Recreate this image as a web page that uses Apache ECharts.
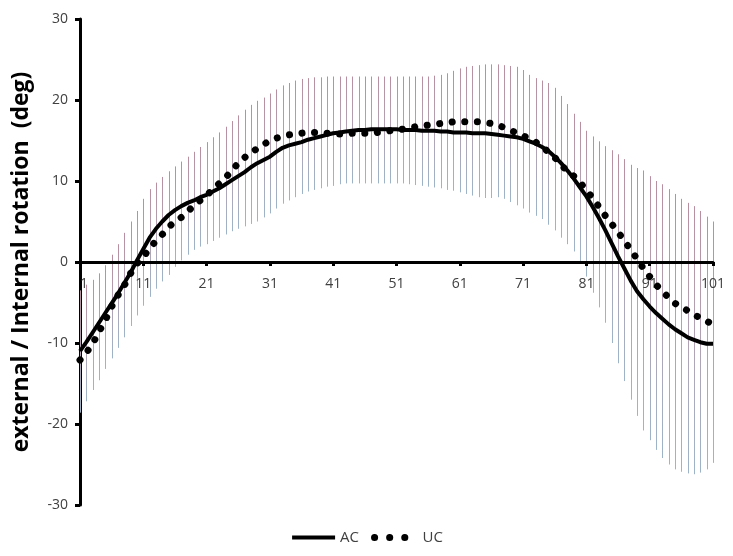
<!DOCTYPE html>
<html><head><meta charset="utf-8">
<script src="https://cdn.jsdelivr.net/npm/echarts@6/dist/echarts.min.js"></script>
<style>html,body{margin:0;padding:0;background:#fff}#c{width:733px;height:556px}</style>
</head><body><div id="c"></div>
<script>
// % of cycle (1..101)
const categories = Array.from({length: 101}, (_, k) => String(k + 1));
const xTickLabels = ['1','11','21','31','41','51','61','71','81','91','101'];

// AC mean (deg)
const acMean = [
 -11.0,-9.9,-8.7,-7.5,-6.3,-5.1,-3.9,-2.6,-1.3,0.2,
 1.6,3.0,4.1,5.0,5.8,6.4,6.9,7.3,7.6,8.0,
 8.3,8.7,9.1,9.6,10.1,10.6,11.1,11.7,12.2,12.6,
 13.0,13.6,14.1,14.4,14.6,14.8,15.1,15.3,15.5,15.7,
 15.9,16.0,16.1,16.2,16.3,16.3,16.4,16.4,16.4,16.4,
 16.4,16.3,16.3,16.3,16.2,16.2,16.2,16.1,16.1,16.0,
 16.0,16.0,15.9,15.9,15.9,15.8,15.7,15.6,15.5,15.4,
 15.2,14.9,14.6,14.2,13.7,13.0,12.2,11.3,10.3,9.2,
 8.1,6.8,5.4,3.9,2.3,0.7,-0.8,-2.3,-3.6,-4.6,
 -5.5,-6.3,-7.0,-7.7,-8.3,-8.8,-9.3,-9.6,-9.9,-10.1,
 -10.1
];

// UC mean (deg)
const ucMean = [
 -12.1,-11.2,-10.1,-8.6,-7.2,-5.5,-4.1,-2.9,-1.4,-0.2,
 0.6,1.7,2.6,3.4,4.3,5.0,5.5,6.2,7.0,7.6,
 8.2,9.0,9.7,10.4,11.3,12.2,12.9,13.5,14.0,14.5,
 15.0,15.3,15.5,15.7,15.8,15.9,16.0,16.0,16.0,15.9,
 15.9,15.8,15.8,15.9,15.9,15.9,15.9,16.0,16.1,16.2,
 16.3,16.4,16.5,16.7,16.8,16.9,17.0,17.1,17.2,17.3,
 17.3,17.3,17.3,17.3,17.2,17.1,16.9,16.6,16.3,15.9,
 15.6,15.2,14.8,14.2,13.6,12.9,12.0,11.2,10.6,9.8,
 8.9,7.9,6.8,5.7,4.7,3.7,2.6,1.5,0.4,-0.8,
 -1.8,-2.8,-3.6,-4.4,-5.1,-5.6,-6.0,-6.5,-6.9,-7.3,
 -7.7
];

// upper end of the SD bars (deg)
const sdBarTop = [
 -3.5,-2.8,-2.2,-1.4,-0.4,0.9,2.2,3.6,5.0,6.3,
 7.8,9.0,9.8,10.5,11.2,11.8,12.4,13.0,13.6,14.2,
 14.8,15.4,16.0,16.7,17.4,18.1,18.8,19.4,19.9,20.3,
 20.8,21.3,21.8,22.1,22.4,22.6,22.7,22.8,22.8,22.9,
 22.9,22.9,22.9,22.9,22.9,22.9,22.9,22.9,22.9,22.9,
 22.9,22.9,22.9,22.9,22.9,22.9,23.0,23.1,23.3,23.6,
 23.9,24.1,24.2,24.3,24.4,24.4,24.4,24.3,24.2,24.1,
 23.7,23.1,22.7,22.4,22.1,21.5,20.5,19.5,18.3,17.3,
 16.2,15.5,14.9,14.3,13.8,13.3,12.7,12.0,11.6,11.3,
 10.6,10.0,9.6,9.0,8.4,7.8,7.3,6.9,6.3,5.6,
 5.0
];

// lower end of the SD bars (deg)
const sdBarBottom = [
 -18.6,-17.2,-15.8,-14.6,-13.2,-11.9,-10.6,-9.3,-7.9,-6.6,
 -5.4,-4.3,-3.3,-2.4,-1.6,-0.6,0.2,0.9,1.5,1.9,
 2.2,2.6,3.0,3.4,3.8,4.1,4.4,4.7,5.0,5.5,
 6.0,6.6,7.2,7.6,8.0,8.4,8.7,8.9,9.1,9.3,
 9.4,9.6,9.7,9.7,9.7,9.7,9.7,9.7,9.7,9.7,
 9.7,9.7,9.6,9.5,9.4,9.3,9.2,9.1,8.9,8.8,
 8.6,8.4,8.2,8.0,7.9,7.9,8.0,7.8,7.4,7.0,
 6.6,6.1,5.7,5.3,4.6,3.9,3.0,2.2,1.3,0.0,
 -1.8,-3.8,-5.6,-7.5,-10.0,-12.5,-14.7,-17.0,-19.0,-20.8,
 -22.0,-23.2,-24.2,-25.0,-25.6,-25.9,-26.1,-26.2,-26.0,-25.6,
 -24.8
];

const yMin = -30, yMax = 30, yStep = 10;
const FONT = "'Open Sans', 'Liberation Sans', sans-serif";

const gridTop = 19, gridBottom = 51, H = 556;
const gridHeight = H - gridTop - gridBottom;
// move the category axis (line, ticks, labels) up to the y = 0 level
const zeroOffset = -gridHeight * (0 - yMin) / (yMax - yMin);

const chart = echarts.init(document.getElementById('c'), null, {renderer: 'canvas'});
const barData = categories.map((c, k) => [k, sdBarBottom[k], sdBarTop[k]]);
const showTick = (i, v) => xTickLabels.indexOf(v) >= 0;

chart.setOption({
  animation: false,
  backgroundColor: '#ffffff',
  grid: {left: 80, right: 20, top: gridTop, bottom: gridBottom, containLabel: false},
  xAxis: {
    type: 'category', data: categories, boundaryGap: false, z: 5,
    position: 'bottom', offset: zeroOffset,
    axisLine: {onZero: false, lineStyle: {color: '#000', width: 3}},
    axisTick: {show: true, interval: showTick, length: 4, lineStyle: {color: '#000', width: 3}},
    axisLabel: {interval: showTick, color: '#404040', fontFamily: FONT, fontSize: 14, margin: 15,
                alignMinLabel: 'left'},
    splitLine: {show: false}
  },
  yAxis: {
    type: 'value', min: yMin, max: yMax, interval: yStep,
    name: 'external / Internal rotation  (deg)', nameLocation: 'middle', nameGap: 47,
    nameTextStyle: {color: '#000', fontFamily: FONT, fontSize: 23, fontWeight: 'bold'},
    axisLine: {show: true, lineStyle: {color: '#000', width: 3}},
    axisTick: {show: true, length: 5, lineStyle: {color: '#000', width: 3}},
    axisLabel: {color: '#404040', fontFamily: FONT, fontSize: 14, margin: 12},
    splitLine: {show: false}
  },
  legend: {
    bottom: 6, left: 'center', itemWidth: 43, itemHeight: 14, itemGap: 12,
    textStyle: {color: '#404040', fontFamily: FONT, fontSize: 15},
    data: [
      {name: 'AC', itemStyle: {opacity: 0}, lineStyle: {width: 4, color: '#000'}},
      {name: 'UC', itemStyle: {opacity: 0}, lineStyle: {type: [0.1, 15], width: 7, cap: 'round', color: '#000'}}
    ]
  },
  series: [
    {
      type: 'custom', name: 'SD', z: 1, silent: true, data: barData,
      renderItem: function (params, api) {
        const x = api.value(0);
        const pTop = api.coord([x, api.value(2)]);
        const pBot = api.coord([x, api.value(1)]);
        const px = Math.round(pTop[0]) + 0.5;
        return {
          type: 'line',
          shape: {x1: px, y1: pTop[1], x2: px, y2: pBot[1]},
          style: {
            lineWidth: 1,
            stroke: new echarts.graphic.LinearGradient(0, 0, 0, 1, [
              {offset: 0, color: '#b88f9f'},
              {offset: 0.5, color: '#b2a2b4'},
              {offset: 1, color: '#9db4c8'}
            ])
          }
        };
      }
    },
    {
      type: 'line', name: 'AC', data: acMean, symbol: 'none', z: 10,
      lineStyle: {color: '#000', width: 4}, itemStyle: {color: '#000'}
    },
    {
      type: 'line', name: 'UC', data: ucMean, symbol: 'none', z: 11,
      lineStyle: {color: '#000', width: 7, type: [0.1, 12.5], cap: 'round'}, itemStyle: {color: '#000'}
    }
  ]
});
</script></body></html>
